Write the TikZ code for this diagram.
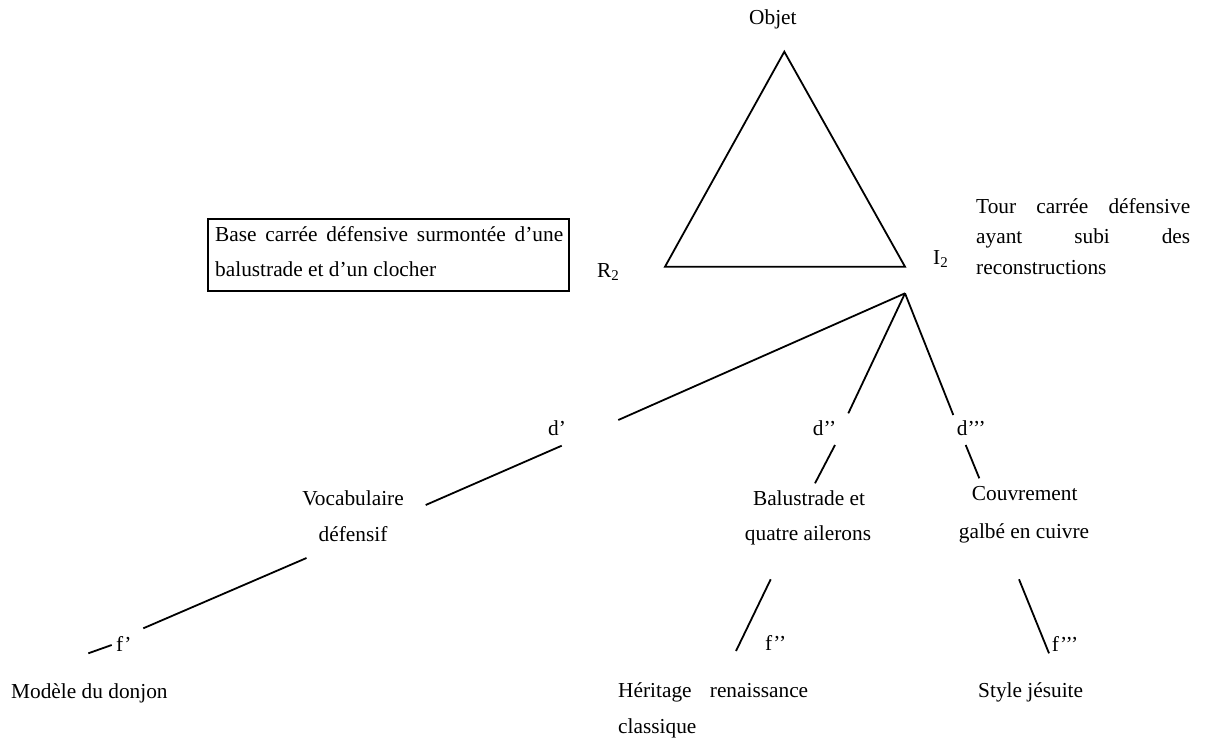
\documentclass[tikz,border=0pt]{standalone}
\usepackage{fontspec}
\setmainfont{Liberation Serif}
\begin{document}
\begin{tikzpicture}[x=1pt,y=-1pt,
  txt/.style={inner sep=0pt, font=\fontsize{21.33}{30}\selectfont},
  lbl/.style={txt, anchor=base west},
  ctr/.style={txt, anchor=base},
  link/.style={line width=1.8pt, line cap=butt},
  frame/.style={line width=1.8pt}]
\useasboundingbox (0,0) rectangle (1207,742);

% --- semiotic triangle ---
\node[lbl] (objet) at (749,24.5) {Objet};
\coordinate (apexO) at (784.3,51.7);
\coordinate (vR) at (665,266.7);
\coordinate (vI) at (905,266.7);
\draw[link, line join=miter] (apexO) -- (vR) -- (vI) -- cycle;
\node[lbl] (rlab) at (597,277) {R\textsubscript{2}};
\node[lbl] (ilab) at (933,264) {I\textsubscript{2}};

% --- representamen box ---
\node[lbl] (box1) at (215,241.7) {\hbox to 348pt{Base\hfill carrée\hfill défensive\hfill surmontée\hfill d’une}};
\node[lbl] (box2) at (215,276) {balustrade et d’un clocher};
\draw[frame] (208.3,219) rectangle (569.3,290.7);

% --- interpretant text ---
\node[lbl] (tour1) at (976,213) {\hbox to 214pt{Tour\hfill carrée\hfill défensive}};
\node[lbl] (tour2) at (976,243) {\hbox to 214pt{ayant\hfill subi\hfill des}};
\node[lbl] (tour3) at (976,274) {reconstructions};

% --- first level branches ---
\coordinate (br) at (905,293.3);
\coordinate (dAt) at (618.3,420);
\coordinate (dBt) at (848.3,413.3);
\coordinate (dCt) at (953.3,415);
\draw[link] (br) -- (dAt);
\draw[link] (br) -- (dBt);
\draw[link] (br) -- (dCt);

\node[lbl] (d1) at (548,435) {d’};
\node[lbl] (d2) at (812.7,435) {d’’};
\node[lbl] (d3) at (956.7,435) {d’’’};

\coordinate (dAb) at (561.7,445.7);
\coordinate (vocT) at (425.7,505);
\coordinate (dBb) at (835,445);
\coordinate (balT) at (815,483.3);
\coordinate (dCb) at (965.7,445);
\coordinate (couT) at (979.3,478.3);
\draw[link] (dAb) -- (vocT);
\draw[link] (dBb) -- (balT);
\draw[link] (dCb) -- (couT);

% --- second level labels ---
\node[ctr] (voc1) at (353,505) {Vocabulaire};
\node[ctr] (voc2) at (353,541) {défensif};
\node[ctr] (bal1) at (809,505) {Balustrade et};
\node[ctr] (bal2) at (808,540) {quatre ailerons};
\node[ctr] (cou1) at (1024.7,500) {Couvrement};
\node[ctr] (cou2) at (1024,538) {galbé en cuivre};

% --- third level branches ---
\coordinate (vocB) at (306.5,558);
\coordinate (fAt) at (143.3,628.3);
\coordinate (fAs) at (111.7,645);
\coordinate (fAe) at (88.3,653.3);
\coordinate (balB) at (770.7,579.3);
\coordinate (fBt) at (736,651);
\coordinate (couB) at (1019,579.3);
\coordinate (fCt) at (1049,653.3);
\draw[link] (vocB) -- (fAt);
\draw[link] (fAs) -- (fAe);
\draw[link] (balB) -- (fBt);
\draw[link] (couB) -- (fCt);

\node[lbl] (f1) at (116,651) {f’};
\node[lbl] (f2) at (765,650) {f’’};
\node[lbl] (f3) at (1051.7,651) {f’’’};

% --- leaves ---
\node[lbl] (modele) at (11,698) {Modèle du donjon};
\node[lbl] (herit1) at (618,697) {\hbox to 190pt{Héritage\hfill renaissance}};
\node[lbl] (herit2) at (618,733) {classique};
\node[lbl] (style) at (978,697) {Style jésuite};
\end{tikzpicture}
\end{document}
